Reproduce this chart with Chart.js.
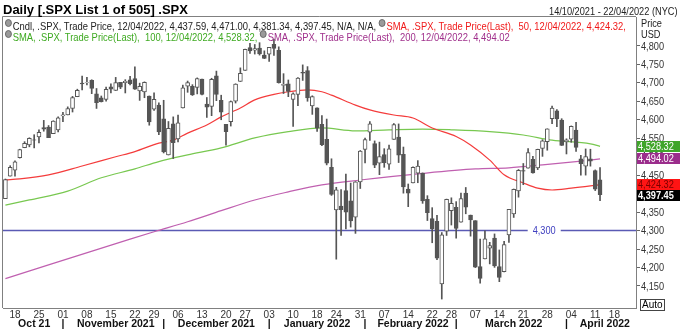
<!DOCTYPE html>
<html>
<head>
<meta charset="utf-8">
<script src="https://cdn.jsdelivr.net/npm/chart.js@4.4.1/dist/chart.umd.min.js"></script>
<style>
  body { margin: 0; background: #fff; }
  #wrap { position: relative; width: 680px; height: 333px; overflow: hidden; font-family: "Liberation Sans", Arial, sans-serif; }
  #chart { position: absolute; left: 0; top: 0; }
  .t { position: absolute; white-space: pre; line-height: 1; }
  .sq { transform: scaleX(0.837); transform-origin: left top; }
  .sql { transform: scaleX(0.855); transform-origin: left top; }
  .sqr { transform: scaleX(0.837); transform-origin: right top; }
  .ic { display: inline-block; width: 6px; height: 6px; border-radius: 50%; background: #9a9a9a; border: 1px solid #666; margin-right: 1px; vertical-align: 3px; }
  #auto { position: absolute; left: 640px; top: 299px; border: 1px solid #444; font-size: 10px; line-height: 10px; padding: 0 1px; }
</style>
</head>
<body>
<div id="wrap">
  <canvas id="chart" width="680" height="333"></canvas>
  <div class="t" style="left:3px;top:3px;font-size:13px;font-weight:bold;">Daily [.SPX List 1 of 505] .SPX</div>
  <div class="t sqr" style="right:3px;top:6px;font-size:11px;color:#222;">14/10/2021 - 22/04/2022 (NYC)</div>
  <div class="t sql" style="left:5px;top:19px;font-size:11px;color:#222;"><span class="ic"></span>Cndl, .SPX, Trade Price, 12/04/2022, 4,437.59, 4,471.00, 4,381.34, 4,397.45, N/A, N/A, <span style="color:#f01818;"><span class="ic"></span>SMA, .SPX, Trade Price(Last),  50, 12/04/2022, 4,424.32,</span></div>
  <div class="t sql" style="left:5px;top:30px;font-size:11px;"><span style="color:#3faa22;"><span class="ic"></span>SMA, .SPX, Trade Price(Last),  100, 12/04/2022, 4,528.32, </span><span style="color:#a0308c;"><span class="ic"></span>SMA, .SPX, Trade Price(Last),  200, 12/04/2022, 4,494.02</span></div>
  <div class="t sq" style="left:641px;top:18px;font-size:11px;color:#222;">Price</div>
  <div class="t sq" style="left:641px;top:29px;font-size:11px;color:#222;">USD</div>
  <div id="auto">Auto</div>
</div>
<script>
// trading days on the axis (last seven are empty future slots)
const dates = [
  '2021-10-14','2021-10-15','2021-10-18','2021-10-19','2021-10-20','2021-10-21','2021-10-22','2021-10-25','2021-10-26','2021-10-27','2021-10-28','2021-10-29',
  '2021-11-01','2021-11-02','2021-11-03','2021-11-04','2021-11-05','2021-11-08','2021-11-09','2021-11-10','2021-11-11','2021-11-12','2021-11-15','2021-11-16','2021-11-17','2021-11-18','2021-11-19','2021-11-22','2021-11-23','2021-11-24','2021-11-26','2021-11-29','2021-11-30',
  '2021-12-01','2021-12-02','2021-12-03','2021-12-06','2021-12-07','2021-12-08','2021-12-09','2021-12-10','2021-12-13','2021-12-14','2021-12-15','2021-12-16','2021-12-17','2021-12-20','2021-12-21','2021-12-22','2021-12-23','2021-12-27','2021-12-28','2021-12-29','2021-12-30','2021-12-31',
  '2022-01-03','2022-01-04','2022-01-05','2022-01-06','2022-01-07','2022-01-10','2022-01-11','2022-01-12','2022-01-13','2022-01-14','2022-01-18','2022-01-19','2022-01-20','2022-01-21','2022-01-24','2022-01-25','2022-01-26','2022-01-27','2022-01-28','2022-01-31',
  '2022-02-01','2022-02-02','2022-02-03','2022-02-04','2022-02-07','2022-02-08','2022-02-09','2022-02-10','2022-02-11','2022-02-14','2022-02-15','2022-02-16','2022-02-17','2022-02-18','2022-02-22','2022-02-23','2022-02-24','2022-02-25','2022-02-28',
  '2022-03-01','2022-03-02','2022-03-03','2022-03-04','2022-03-07','2022-03-08','2022-03-09','2022-03-10','2022-03-11','2022-03-14','2022-03-15','2022-03-16','2022-03-17','2022-03-18','2022-03-21','2022-03-22','2022-03-23','2022-03-24','2022-03-25','2022-03-28','2022-03-29','2022-03-30','2022-03-31',
  '2022-04-01','2022-04-04','2022-04-05','2022-04-06','2022-04-07','2022-04-08','2022-04-11','2022-04-12',
  '2022-04-13','2022-04-14','2022-04-18','2022-04-19','2022-04-20','2022-04-21','2022-04-22'
];

const open = [
  4386.75,4447.69,4463.72,4497.34,4524.42,4532.24,4546.12,4553.69,4578.69,4580.22,4562.84,4572.87,
  4610.62,4613.34,4630.65,4662.93,4699.26,4701.48,4707.25,4670.26,4659.39,4655.24,4689.30,4679.42,4701.50,4700.72,4708.44,4712.00,4678.48,4675.78,4664.63,4628.75,4640.25,
  4602.82,4504.73,4589.49,4548.37,4631.97,4690.86,4691.00,4687.64,4710.30,4642.99,4636.46,4719.13,4652.50,4587.90,4594.96,4650.36,4703.96,4733.99,4795.49,4788.64,4794.23,4775.21,
  4778.14,4804.51,4787.99,4693.39,4697.66,4655.34,4669.14,4728.59,4733.56,4637.99,4632.24,4588.03,4547.35,4471.38,4356.32,4366.64,4408.43,4380.58,4336.19,4431.79,
  4519.57,4566.39,4535.41,4482.79,4505.75,4480.02,4547.00,4553.24,4506.27,4412.61,4429.28,4455.75,4456.06,4384.57,4332.74,4324.93,4155.77,4298.38,4354.17,
  4363.14,4322.56,4401.31,4342.12,4327.01,4202.66,4223.10,4252.55,4279.50,4202.75,4188.82,4288.14,4345.11,4407.34,4462.40,4469.10,4493.10,4469.98,4522.91,4541.09,4602.86,4624.20,4599.02,
  4540.32,4547.97,4572.45,4494.17,4474.65,4494.15,4462.64,4437.59
];
const high = [
  4439.73,4475.82,4488.75,4520.40,4540.87,4551.44,4559.67,4572.62,4598.53,4584.57,4597.55,4608.08,
  4620.34,4635.15,4663.46,4683.00,4718.50,4714.92,4708.53,4684.85,4664.55,4688.47,4697.42,4714.95,4701.50,4708.80,4717.75,4743.83,4699.39,4702.87,4664.63,4672.95,4646.02,
  4652.94,4595.46,4608.03,4612.60,4694.04,4705.06,4695.26,4713.57,4710.30,4660.47,4712.60,4731.99,4666.70,4587.90,4651.14,4697.67,4740.74,4791.49,4807.02,4804.06,4808.93,4786.83,
  4796.64,4818.62,4797.70,4725.01,4707.95,4673.02,4714.13,4748.83,4744.13,4665.13,4632.24,4611.55,4602.11,4494.52,4417.35,4411.01,4453.23,4428.74,4432.72,4516.89,
  4550.49,4595.31,4542.88,4539.66,4521.86,4531.32,4590.03,4588.92,4526.33,4426.22,4472.77,4489.55,4456.06,4394.60,4362.12,4341.51,4294.73,4385.34,4388.84,
  4378.45,4401.48,4416.78,4342.12,4327.01,4276.94,4299.40,4268.28,4291.01,4247.57,4271.05,4357.86,4412.67,4465.40,4481.75,4522.00,4501.07,4520.58,4546.03,4575.65,4637.30,4627.77,4603.07,
  4548.70,4583.50,4593.45,4503.94,4521.16,4520.41,4464.35,4471.00
];
const low = [
  4386.75,4447.69,4447.47,4496.41,4524.40,4526.89,4524.00,4537.36,4569.17,4551.66,4562.84,4567.59,
  4595.06,4613.34,4621.19,4662.59,4681.32,4694.39,4670.87,4630.86,4648.31,4650.77,4672.86,4679.42,4684.41,4672.78,4694.22,4682.17,4652.66,4659.89,4585.43,4625.26,4560.00,
  4510.27,4504.73,4495.12,4540.51,4631.97,4674.52,4665.98,4670.24,4667.60,4606.52,4611.22,4651.89,4600.22,4531.10,4583.16,4645.53,4703.96,4733.99,4780.04,4778.08,4775.33,4765.75,
  4758.17,4774.27,4699.44,4671.26,4662.74,4582.24,4638.27,4706.71,4650.29,4614.75,4568.70,4530.20,4477.95,4395.34,4222.62,4287.11,4304.80,4309.50,4292.46,4414.02,
  4483.53,4544.32,4470.39,4451.50,4471.47,4465.40,4547.00,4484.31,4401.41,4364.84,4429.28,4429.68,4373.81,4327.22,4267.11,4221.51,4114.65,4286.83,4315.12,
  4279.54,4322.56,4345.56,4284.98,4199.85,4157.87,4223.10,4209.80,4200.49,4161.72,4187.90,4267.92,4335.65,4390.57,4424.30,4469.10,4455.81,4465.17,4501.07,4517.69,4589.66,4581.32,4530.41,
  4507.57,4539.21,4514.17,4450.04,4450.30,4474.60,4408.38,4381.34
];
const close = [
  4438.26,4471.37,4486.46,4519.63,4536.19,4549.78,4544.90,4566.48,4574.79,4551.68,4596.42,4605.38,
  4613.67,4630.65,4660.57,4680.06,4697.53,4701.70,4685.25,4646.71,4649.27,4682.85,4682.80,4700.90,4688.67,4704.54,4697.96,4682.94,4690.70,4701.46,4594.62,4655.27,4567.00,
  4513.04,4577.10,4538.43,4591.67,4686.75,4701.21,4667.45,4712.02,4668.97,4634.09,4709.85,4668.67,4620.64,4568.02,4649.23,4696.56,4725.79,4791.19,4786.35,4793.06,4778.73,4766.18,
  4796.56,4793.54,4700.58,4696.05,4677.03,4670.29,4713.07,4726.35,4659.03,4662.85,4577.11,4532.76,4482.73,4397.94,4410.13,4356.45,4349.93,4326.51,4431.85,4515.55,
  4546.54,4589.38,4477.44,4500.53,4483.87,4521.54,4587.18,4504.08,4418.64,4401.67,4471.07,4475.01,4380.26,4348.87,4304.76,4225.50,4288.70,4384.65,4373.94,
  4306.26,4386.54,4363.49,4328.87,4201.09,4170.70,4277.88,4259.52,4204.31,4173.11,4262.45,4357.86,4411.67,4463.12,4461.18,4511.61,4456.24,4520.16,4543.06,4575.52,4631.60,4602.45,4530.41,
  4545.86,4582.64,4525.12,4481.15,4500.21,4488.28,4412.53,4397.45
];

// moving averages
const sma50Points = [
  ['2021-10-14',4437],['2021-10-19',4440],['2021-10-27',4451],['2021-11-05',4475],['2021-11-16',4500],['2021-11-22',4514],
  ['2021-11-30',4537],['2021-12-03',4545],['2021-12-08',4564],['2021-12-14',4586],['2021-12-17',4608],['2021-12-23',4632],
  ['2021-12-29',4654],['2022-01-04',4669],['2022-01-07',4676],['2022-01-13',4681],['2022-01-19',4676],['2022-01-21',4667],
  ['2022-01-28',4640],['2022-02-02',4627],['2022-02-09',4613],['2022-02-15',4605],['2022-02-22',4578],['2022-03-01',4555],
  ['2022-03-04',4532],['2022-03-10',4491],['2022-03-15',4451],['2022-03-21',4429],['2022-03-24',4415],['2022-03-29',4410],
  ['2022-04-04',4415],['2022-04-08',4421],['2022-04-12',4424.32]
];
const sma100Points = [
  ['2021-10-14',4369],['2021-10-21',4383],['2021-11-02',4407],['2021-11-11',4443],['2021-11-22',4467],['2021-11-30',4487],
  ['2021-12-08',4505],['2021-12-17',4524],['2021-12-29',4551],['2022-01-07',4568],['2022-01-19',4578],['2022-01-28',4570],
  ['2022-02-08',4573],['2022-02-17',4575],['2022-02-28',4573],['2022-03-10',4568],['2022-03-21',4559],['2022-03-29',4545],
  ['2022-04-08',4535],['2022-04-12',4528.32]
];
const sma200Points = [
  ['2021-10-14',4170],['2021-11-19',4277],['2021-11-29',4297],['2021-12-08',4324],['2021-12-17',4354],['2021-12-29',4383],
  ['2022-01-07',4405],['2022-01-19',4424],['2022-01-31',4437],['2022-02-17',4455],['2022-03-07',4467],['2022-03-16',4470],
  ['2022-03-25',4478],['2022-04-05',4487],['2022-04-12',4494.02]
];

const monthNames = ['Oct 21','November 2021','December 2021','January 2022','February 2022','March 2022','April 2022'];
const levelLine = 4300;
const yMin = 4090.4, yMax = 4878.5;

const family = '"Liberation Sans", Arial, sans-serif';
const squeeze = 0.837;

const dayOf = s => new Date(s + 'T00:00:00Z').getUTCDay();

// month row: name in the middle of each month, bar at each month start
const monthRow = dates.map(() => '');
const months = [];
dates.forEach((d, i) => {
  const k = d.slice(0, 7);
  if (!months.length || months[months.length - 1].k !== k) months.push({k: k, first: i, last: i});
  else months[months.length - 1].last = i;
});
months.forEach((m, n) => {
  monthRow[Math.round((m.first + m.last + 1) / 2)] = monthNames[n];
  if (n > 0) monthRow[m.first] = '|';
});

function fromPoints(points){
  const arr = dates.map(() => null);
  points.forEach(p => { arr[dates.indexOf(p[0])] = p[1]; });
  return arr;
}

const downCol = '#555555';
const wicks = open.map((o, i) => [low[i], high[i]]);
const bodies = open.map((o, i) => [o, close[i]]);
const bodyFill = open.map((o, i) => close[i] >= o ? '#ffffff' : downCol);

const lastValues = [
  {v: 4528.32, bg: '#3fa52a', fg: '#ffffff'},
  {v: 4494.02, bg: '#9b2d8c', fg: '#ffffff'},
  {v: 4424.32, bg: '#ff1414', fg: '#7a0000'},
  {v: 4397.45, bg: '#000000', fg: '#ffffff', bold: true}
];

// narrow text: draw squeezed horizontally
function squeezedText(ctx, txt, x, y, align){
  ctx.save();
  ctx.translate(x, y);
  ctx.scale(squeeze, 1);
  ctx.textAlign = align;
  ctx.fillText(txt, 0, 0);
  ctx.restore();
}

const overlay = {
  id: 'overlay',
  beforeDatasetsDraw(chart){
    const ctx = chart.ctx, a = chart.chartArea, ys = chart.scales.y;
    ctx.save();
    ctx.strokeStyle = '#808080';
    ctx.lineWidth = 1;
    ctx.beginPath();
    ctx.moveTo(a.left - 0.5, a.bottom);
    ctx.lineTo(a.left - 0.5, a.top - 0.5);
    ctx.lineTo(a.right, a.top - 0.5);
    ctx.stroke();
    // horizontal level
    const y = ys.getPixelForValue(levelLine);
    ctx.strokeStyle = '#5a5ab4';
    ctx.lineWidth = 1.5;
    ctx.beginPath();
    ctx.moveTo(a.left, y);
    ctx.lineTo(a.right, y);
    ctx.stroke();
    ctx.font = '11px ' + family;
    const txt = levelLine.toLocaleString('en-US');
    const w = ctx.measureText(txt).width * squeeze;
    const cx = a.left + (a.right - a.left) * 0.855;
    ctx.fillStyle = '#ffffff';
    ctx.fillRect(cx - w / 2 - 5, y - 5, w + 10, 10);
    ctx.fillStyle = '#4040c0';
    ctx.textBaseline = 'middle';
    squeezedText(ctx, txt, cx, y + 0.5, 'center');
    ctx.restore();
  },
  afterDraw(chart){
    const ctx = chart.ctx, a = chart.chartArea, ys = chart.scales.y;
    // y tick labels, squeezed like the rest of the text
    ctx.save();
    ctx.fillStyle = '#333';
    ctx.font = '11px ' + family;
    ctx.textBaseline = 'middle';
    ys.ticks.forEach(t => {
      if (t.value % 50 === 0 && t.value >= 4150 && t.value <= 4800) {
        squeezedText(ctx, t.value.toLocaleString('en-US'), a.right + 5, ys.getPixelForValue(t.value) + 0.5, 'left');
      }
    });
    // last value boxes
    const h = 11;
    let prevBottom = -1e9;
    lastValues.forEach(b => {
      let top = ys.getPixelForValue(b.v) - h / 2;
      if (top < prevBottom) top = prevBottom;
      prevBottom = top + h;
      ctx.fillStyle = b.bg;
      ctx.fillRect(a.right + 1, Math.round(top), chart.width - a.right - 1, h);
      ctx.fillStyle = b.fg;
      ctx.font = (b.bold ? 'bold ' : '') + '11px ' + family;
      squeezedText(ctx, b.v.toLocaleString('en-US', {minimumFractionDigits: 2}), a.right + 2, Math.round(top) + h / 2 + 0.5, 'left');
    });
    ctx.restore();
  }
};

Chart.defaults.font.family = family;

new Chart(document.getElementById('chart'), {
  data: {
    labels: dates,
    datasets: [
      {type: 'line', data: fromPoints(sma50Points), borderColor: '#f43c3c', borderWidth: 1.2, pointRadius: 0, spanGaps: true, cubicInterpolationMode: 'monotone', order: 3},
      {type: 'line', data: fromPoints(sma100Points), borderColor: '#78c850', borderWidth: 1.2, pointRadius: 0, spanGaps: true, cubicInterpolationMode: 'monotone', order: 3},
      {type: 'line', data: fromPoints(sma200Points), borderColor: '#c060b0', borderWidth: 1.2, pointRadius: 0, spanGaps: true, cubicInterpolationMode: 'monotone', order: 3},
      {type: 'bar', data: wicks, backgroundColor: downCol, barThickness: 1, order: 2},
      {type: 'bar', data: bodies, backgroundColor: bodyFill, borderColor: downCol, borderWidth: 1, borderSkipped: false, barThickness: 4, order: 1}
    ]
  },
  options: {
    responsive: false,
    animation: false,
    layout: {padding: {left: 3, top: 17, right: 0, bottom: 0}},
    datasets: {bar: {grouped: false}},
    plugins: {legend: {display: false}, tooltip: {enabled: false}},
    scales: {
      x: {
        type: 'category',
        offset: true,
        grid: {display: false, drawTicks: false},
        border: {display: true, color: '#808080'},
        ticks: {
          autoSkip: false, maxRotation: 0, padding: 1, color: '#333', font: {size: 10},
          callback: (v, i) => (i > 0 && dayOf(dates[i]) < dayOf(dates[i - 1])) ? dates[i].slice(8, 10) : null
        },
        afterFit: s => { s.height = 10; }
      },
      x2: {
        type: 'category',
        labels: monthRow,
        position: 'bottom',
        offset: true,
        grid: {display: false, drawTicks: false},
        border: {display: false},
        ticks: {autoSkip: false, maxRotation: 0, padding: 0, color: '#111', font: {size: 10.5, weight: 'bold'}},
        afterFit: s => { s.height = 15; }
      },
      y: {
        position: 'right',
        min: yMin,
        max: yMax,
        grid: {drawOnChartArea: false, tickLength: 4, color: '#666'},
        border: {color: '#808080'},
        ticks: {
          stepSize: 50, padding: 1, color: 'rgba(0,0,0,0)', font: {size: 11},
          callback: v => (v % 50 === 0 && v >= 4150 && v <= 4800) ? v.toLocaleString('en-US') : null
        },
        afterFit: s => { s.width = 44; }
      }
    }
  },
  plugins: [overlay]
});
</script>
</body>
</html>
